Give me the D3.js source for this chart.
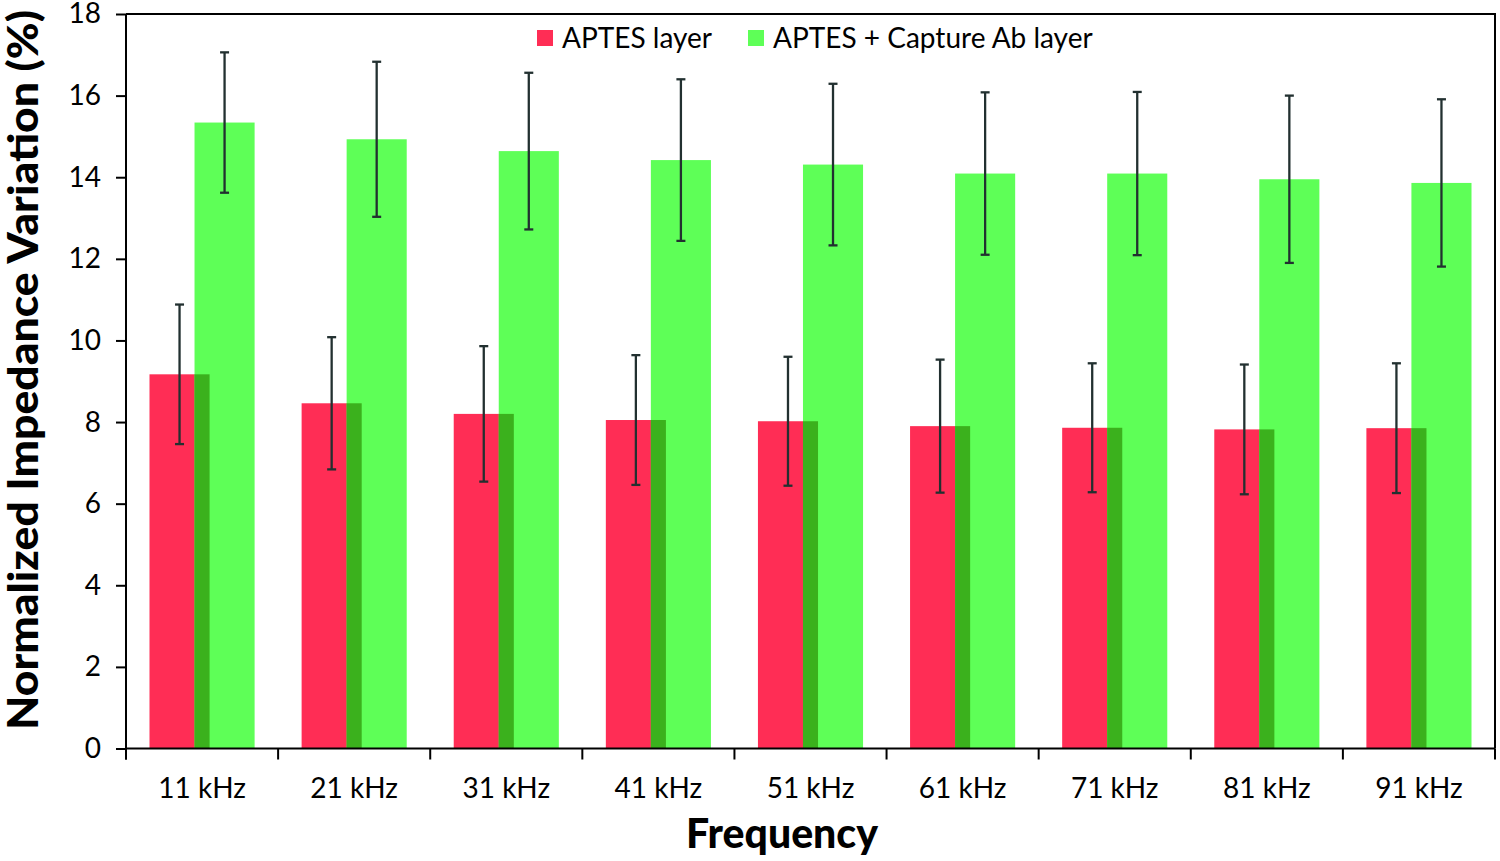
<!DOCTYPE html>
<html>
<head>
<meta charset="utf-8">
<script src="https://cdn.jsdelivr.net/npm/d3@7"></script>
<style>
  html, body { margin: 0; padding: 0; background: #fff; }
  svg { display: block; }
  text { font-family: Lato, "Open Sans", sans-serif; fill: #000; }
</style>
</head>
<body>
<svg id="chart" width="1500" height="861"></svg>
<script>
// ---- data ----
const categories = ["11 kHz","21 kHz","31 kHz","41 kHz","51 kHz","61 kHz","71 kHz","81 kHz","91 kHz"];
const seriesNames = ["APTES layer", "APTES + Capture Ab layer"];
const aptesValues = [9.17, 8.46, 8.20, 8.05, 8.02, 7.90, 7.86, 7.82, 7.85];
const aptesErrors = [1.71, 1.62, 1.66, 1.59, 1.58, 1.63, 1.58, 1.59, 1.59];
const captureValues = [15.34, 14.93, 14.64, 14.42, 14.31, 14.09, 14.09, 13.95, 13.86];
const captureErrors = [1.72, 1.90, 1.92, 1.98, 1.98, 1.99, 2.00, 2.05, 2.05];
const yTicks = [0, 2, 4, 6, 8, 10, 12, 14, 16, 18];
const xTitle = "Frequency";
const yTitle = "Normalized Impedance Variation (%)";

(function () {
// ---- layout ----
const mLeft = 126, mRight = 1495, mTop = 14, mBottom = 748.5;
const colors = { red: "#ff2d55", green: "#5eff57", overlap: "#3bb11d", err: "#223030" };

const svg = d3.select("#chart");

const x = d3.scaleBand().domain(categories).range([mLeft, mRight]).padding(0);
const y = d3.scaleLinear().domain([0, 18]).range([mBottom, mTop]);
const bw = x.bandwidth();
const barW = bw * 0.395;
const shift = bw * 0.148;   // half distance between the two bar centres

const redX = c => x(c) + bw / 2 - shift - barW / 2;
const greenX = c => x(c) + bw / 2 + shift - barW / 2;

const rows = categories.map((c, i) => ({
  c, r: aptesValues[i], re: aptesErrors[i], g: captureValues[i], ge: captureErrors[i]
}));

// bars
const gBars = svg.append("g");
gBars.selectAll("rect.red").data(rows).join("rect")
  .attr("class", "red")
  .attr("x", d => redX(d.c)).attr("width", barW)
  .attr("y", d => y(d.r)).attr("height", d => y(0) - y(d.r))
  .attr("fill", colors.red);
gBars.selectAll("rect.green").data(rows).join("rect")
  .attr("class", "green")
  .attr("x", d => greenX(d.c)).attr("width", barW)
  .attr("y", d => y(d.g)).attr("height", d => y(0) - y(d.g))
  .attr("fill", colors.green);
gBars.selectAll("rect.ov").data(rows).join("rect")
  .attr("class", "ov")
  .attr("x", d => greenX(d.c))
  .attr("width", d => redX(d.c) + barW - greenX(d.c))
  .attr("y", d => y(Math.min(d.r, d.g))).attr("height", d => y(0) - y(Math.min(d.r, d.g)))
  .attr("fill", colors.overlap);

// error bars
function errBars(cx, val, err) {
  const g = svg.append("g").attr("stroke", colors.err).attr("stroke-width", 2.3).attr("fill", "none");
  const cap = 4.5;
  rows.forEach(d => {
    const xc = cx(d);
    const hi = y(val(d) + err(d)), lo = y(val(d) - err(d));
    g.append("line").attr("x1", xc).attr("x2", xc).attr("y1", hi).attr("y2", lo);
    g.append("line").attr("x1", xc - cap).attr("x2", xc + cap).attr("y1", hi).attr("y2", hi);
    g.append("line").attr("x1", xc - cap).attr("x2", xc + cap).attr("y1", lo).attr("y2", lo);
  });
}
errBars(d => redX(d.c) + barW / 2, d => d.r, d => d.re);
errBars(d => greenX(d.c) + barW / 2, d => d.g, d => d.ge);

// frame (top & right)
svg.append("path")
  .attr("d", `M${mLeft},${mTop}H${mRight}V${mBottom}`)
  .attr("fill", "none").attr("stroke", "#000").attr("stroke-width", 2);

// y axis
const yAxis = svg.append("g").attr("transform", `translate(${mLeft},0)`)
  .call(d3.axisLeft(y).tickValues(yTicks).tickSize(10).tickPadding(15).tickFormat(d3.format("d")));
yAxis.select(".domain").attr("stroke", "#000").attr("stroke-width", 2)
  .attr("d", `M0,${mTop}V${mBottom + 11}`);
yAxis.selectAll(".tick line").attr("stroke", "#000").attr("stroke-width", 2);
yAxis.selectAll(".tick text").style("font-family", "Lato, sans-serif").style("font-size", "28px").attr("fill", "#000");

// x axis
const xAxis = svg.append("g").attr("transform", `translate(0,${mBottom})`)
  .call(d3.axisBottom(x).tickSize(0).tickPadding(30));
xAxis.select(".domain").attr("stroke", "#000").attr("stroke-width", 2).attr("d", `M${mLeft},0H${mRight}`);
xAxis.selectAll(".tick text").style("font-family", "Lato, sans-serif").style("font-size", "28px").attr("fill", "#000");
const bounds = categories.map(c => x(c)).concat([x(categories[categories.length - 1]) + bw]);
xAxis.selectAll("line.bt").data(bounds).join("line").attr("class", "bt")
  .attr("x1", d => d).attr("x2", d => d).attr("y1", 0).attr("y2", 11)
  .attr("stroke", "#000").attr("stroke-width", 2);

// axis titles
svg.append("text").attr("x", 782).attr("y", 848).attr("text-anchor", "middle")
  .style("font-weight", "900").style("font-size", "41px").text(xTitle);
svg.append("text").attr("transform", "translate(38,370) rotate(-90)").attr("text-anchor", "middle")
  .attr("textLength", 720).attr("lengthAdjust", "spacingAndGlyphs")
  .style("font-weight", "900").style("font-size", "42px").text(yTitle);

// legend
const legendX = [537, 748];
const legendColors = [colors.red, colors.green];
const lg = svg.append("g");
seriesNames.forEach((s, i) => {
  lg.append("rect").attr("x", legendX[i]).attr("y", 30).attr("width", 16).attr("height", 16).attr("fill", legendColors[i]);
  lg.append("text").attr("x", legendX[i] + 25).attr("y", 48).style("font-size", "28px").text(s);
});
})();
</script>
</body>
</html>
